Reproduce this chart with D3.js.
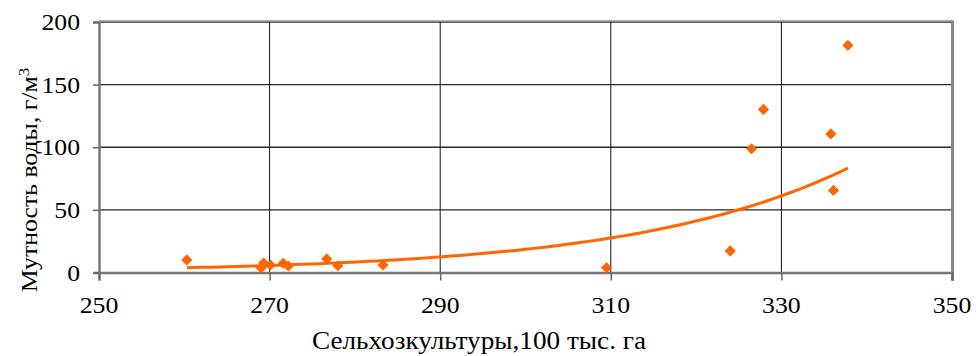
<!DOCTYPE html>
<html>
<head>
<meta charset="utf-8">
<script src="https://cdn.jsdelivr.net/npm/d3@7"></script>
<style>
  html, body { margin: 0; padding: 0; background: #fff; }
</style>
</head>
<body>
<svg id="chart" width="976" height="356" font-family="'Liberation Serif', 'Times New Roman', serif"></svg>
<script>
// Observations: cropland area (100 thousand ha) vs water turbidity (g/m3)
const cropArea  = [260.3, 269.0, 269.3, 270.1, 271.6, 272.2, 276.7, 278.0, 283.3, 309.5, 324.0, 326.5, 327.9, 335.8, 336.1, 337.8];
const turbidity = [10, 3.6, 7.6, 6, 7.4, 5.2, 10.8, 5.4, 6, 3.8, 17.2, 98.8, 130.2, 110.6, 65.5, 181.4];
const xTicks = [250, 270, 290, 310, 330, 350];
const yTicks = [0, 50, 100, 150, 200];
const xTitle = "Сельхозкультуры,100 тыс. га";
const yTitle = "Мутность воды, г/м";
const yTitleSup = "3";

const orange = "#FF6600";
const stretch = 1.12; // widening of the serif labels along the baseline

const svg = d3.select("#chart");
const plot = { left: 99, right: 952, top: 22, bottom: 272.5 };

const x = d3.scaleLinear().domain([250, 350]).range([plot.left, plot.right]);
const y = d3.scaleLinear().domain([0, 200]).range([plot.bottom, plot.top]);

// Exponential trend y = a*exp(b*x), least squares on ln(y)
const lx = cropArea, ly = turbidity.map(Math.log);
const mx = d3.mean(lx), my = d3.mean(ly);
const b = d3.sum(lx, (v, i) => (v - mx) * (ly[i] - my)) / d3.sum(lx, v => (v - mx) * (v - mx));
const lnA = my - b * mx;
const [xmin, xmax] = d3.extent(cropArea);
const trendX = d3.range(xmin, xmax, (xmax - xmin) / 80).concat([xmax]);
const trend = trendX.map(v => [v, Math.exp(lnA + b * v)]);

// grid
const g = svg.append("g");
g.selectAll("line.hg").data(yTicks.filter(t => t > 0)).join("line")
  .attr("x1", plot.left).attr("x2", plot.right)
  .attr("y1", d => y(d)).attr("y2", d => y(d))
  .attr("stroke", "#2a2a2a").attr("stroke-width", 1.3);
g.selectAll("line.vg").data(xTicks.filter(t => t > 250 && t < 350)).join("line")
  .attr("x1", d => x(d)).attr("x2", d => x(d))
  .attr("y1", plot.top).attr("y2", plot.bottom)
  .attr("stroke", "#111").attr("stroke-width", 1);

// frame: top and right borders
g.append("line").attr("x1", plot.left).attr("x2", plot.right + 1)
  .attr("y1", plot.top - 1).attr("y2", plot.top - 1)
  .attr("stroke", "#999").attr("stroke-width", 1.5);
g.append("line").attr("x1", plot.right + 0.5).attr("x2", plot.right + 0.5)
  .attr("y1", plot.top - 1.5).attr("y2", plot.bottom + 8)
  .attr("stroke", "#888").attr("stroke-width", 3);

// axes
const xAxis = d3.axisBottom(x).tickValues(xTicks).tickSize(8).tickFormat("");
const yAxis = d3.axisLeft(y).tickValues(yTicks).tickSize(6).tickFormat("");
const gx = svg.append("g").attr("transform", `translate(0,${plot.bottom})`).call(xAxis);
const gy = svg.append("g").attr("transform", `translate(${plot.left},0)`).call(yAxis);
[gx, gy].forEach(a => {
  a.select(".domain").attr("stroke", "#777").attr("stroke-width", 2.5);
  a.selectAll(".tick line").attr("stroke", "#666").attr("stroke-width", 1.5);
});

function label(px, py, txt, anchor, size) {
  return svg.append("text")
    .attr("transform", `translate(${px},${py}) scale(${stretch},1)`)
    .attr("text-anchor", anchor)
    .attr("font-size", size)
    .attr("fill", "#000")
    .text(txt);
}
xTicks.forEach(t => label(x(t), 313, t, "middle", 23));
yTicks.forEach(t => label(80, y(t) + 8, t, "end", 23));

label(479, 349, xTitle, "middle", 24.3);

// rotated y title with superscript
const yt = svg.append("text")
  .attr("transform", `translate(37,180) rotate(-90) scale(${stretch},1)`)
  .attr("text-anchor", "middle")
  .attr("font-size", 23)
  .attr("fill", "#000");
yt.append("tspan").text(yTitle);
yt.append("tspan").attr("font-size", 15).attr("dy", -8).text(yTitleSup);

// trend line
svg.append("path")
  .datum(trend)
  .attr("fill", "none")
  .attr("stroke", orange)
  .attr("stroke-width", 3)
  .attr("d", d3.line().x(d => x(d[0])).y(d => y(d[1])));

// diamond markers
svg.selectAll("path.pt").data(cropArea.map((v, i) => [v, turbidity[i]])).join("path")
  .attr("class", "pt")
  .attr("d", d3.symbol().type(d3.symbolDiamond2).size(80))
  .attr("transform", d => `translate(${x(d[0])},${y(d[1])})`)
  .attr("fill", orange);
</script>
</body>
</html>
